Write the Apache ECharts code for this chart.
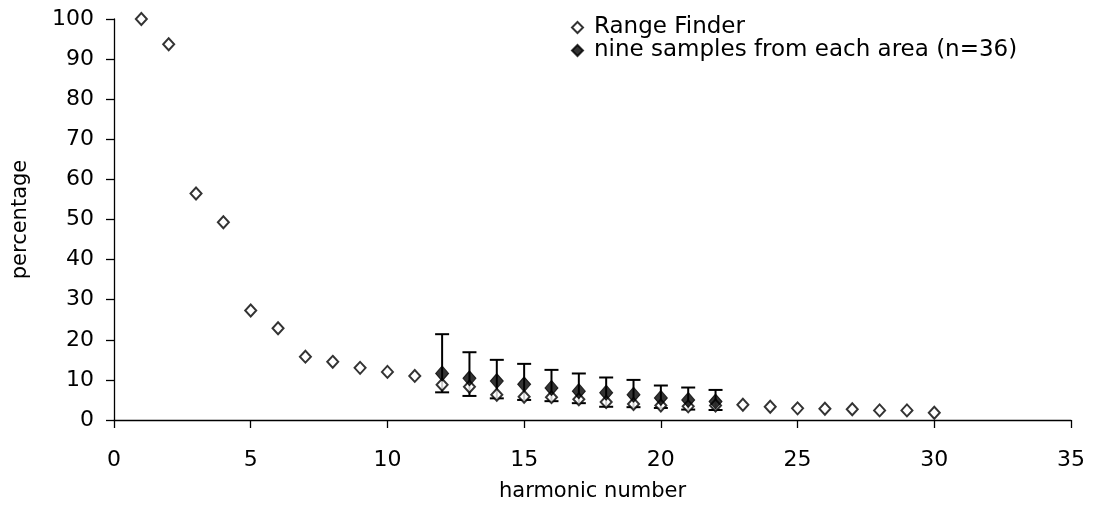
<!DOCTYPE html>
<html>
<head>
<meta charset="utf-8">
<script src="https://cdn.jsdelivr.net/npm/echarts@6/dist/echarts.min.js"></script>
<style>html,body{margin:0;padding:0;background:#fff}#c{width:1093px;height:517px}</style>
</head>
<body>
<div id="c"></div>
<script>
// Range Finder (open diamonds), harmonics 1..30
const rfHarmonics = [1,2,3,4,5,6,7,8,9,10,11,12,13,14,15,16,17,18,19,20,21,22,23,24,25,26,27,28,29,30];
const rfValues = [100,93.7,56.5,49.3,27.3,22.9,15.8,14.5,13.0,12.0,11.0,8.8,8.3,6.3,5.8,5.7,5.2,4.5,4.0,3.6,3.4,3.6,3.8,3.3,2.9,2.8,2.7,2.4,2.4,1.8];

// nine samples from each area (n=36): mean with error bar low/high, harmonics 12..22
const sampleHarmonics = [12,13,14,15,16,17,18,19,20,21,22];
const sampleMeans = [11.6,10.4,9.7,8.9,8.0,7.2,6.8,6.3,5.5,5.0,4.6];
const sampleLow = [6.9,6.0,5.4,5.0,4.7,4.2,3.3,3.2,3.0,2.6,2.5];
const sampleHigh = [21.4,16.9,15.0,14.0,12.5,11.6,10.6,10.0,8.6,8.1,7.5];

const xTicks = {min:0, max:35, interval:5};
const yTicks = {min:0, max:100, interval:10};

const rfData = rfHarmonics.map((h,i)=>[h, rfValues[i]]);
const meanData = sampleHarmonics.map((h,i)=>[h, sampleMeans[i]]);
const errData = sampleHarmonics.map((h,i)=>[h, sampleLow[i], sampleHigh[i]]);

const chart = echarts.init(document.getElementById('c'));
const font = 'DejaVu Sans, sans-serif';
chart.setOption({
  animation:false,
  backgroundColor:'#fff',
  grid:{left:114, right:22, top:19, bottom:97},
  legend:{
    orient:'vertical', left:566, top:11, itemGap:0,
    itemWidth:11, itemHeight:11,
    textStyle:{fontFamily:font, fontSize:23, lineHeight:21, color:'#000', padding:[0,0,0,6]},
    data:['Range Finder','nine samples from each area (n=36)']
  },
  xAxis:{
    type:'value', min:xTicks.min, max:xTicks.max, interval:xTicks.interval,
    name:'harmonic number', nameLocation:'middle', nameGap:61,
    nameTextStyle:{fontFamily:font, fontSize:21, color:'#000'},
    axisLine:{show:true, lineStyle:{color:'#000', width:1.3}},
    axisTick:{show:true, length:8, lineStyle:{color:'#000', width:1.3}},
    axisLabel:{fontFamily:font, fontSize:22, color:'#000', margin:29},
    splitLine:{show:false}
  },
  yAxis:{
    type:'value', min:yTicks.min, max:yTicks.max, interval:yTicks.interval,
    name:'percentage', nameLocation:'middle', nameGap:83, nameRotate:90,
    nameTextStyle:{fontFamily:font, fontSize:21, color:'#000'},
    axisLine:{show:true, lineStyle:{color:'#000', width:1.3}},
    axisTick:{show:true, length:8, lineStyle:{color:'#000', width:1.3}},
    axisLabel:{fontFamily:font, fontSize:22, color:'#000', margin:20},
    splitLine:{show:false}
  },
  series:[
    {
      name:'error', type:'custom', z:3,
      renderItem:function(params, api){
        const x = api.value(0);
        const lo = api.coord([x, api.value(1)]);
        const hi = api.coord([x, api.value(2)]);
        const hw = 7;
        const st = {stroke:'#000', lineWidth:2};
        return {type:'group', children:[
          {type:'line', shape:{x1:lo[0], y1:lo[1], x2:hi[0], y2:hi[1]}, style:st},
          {type:'line', shape:{x1:hi[0]-hw, y1:hi[1], x2:hi[0]+hw, y2:hi[1]}, style:st},
          {type:'line', shape:{x1:lo[0]-hw, y1:lo[1], x2:lo[0]+hw, y2:lo[1]}, style:st}
        ]};
      },
      encode:{x:0, y:[1,2]},
      data:errData
    },
    {
      name:'Range Finder', type:'scatter', z:4,
      symbol:'diamond', symbolSize:[11,12],
      itemStyle:{color:'#fff', borderColor:'#000', borderWidth:2},
      data:rfData
    },
    {
      name:'nine samples from each area (n=36)', type:'scatter', z:5,
      symbol:'diamond', symbolSize:[13,15],
      itemStyle:{color:'#000', borderColor:'#000', borderWidth:1},
      data:meanData
    }
  ]
});
</script>
</body>
</html>
